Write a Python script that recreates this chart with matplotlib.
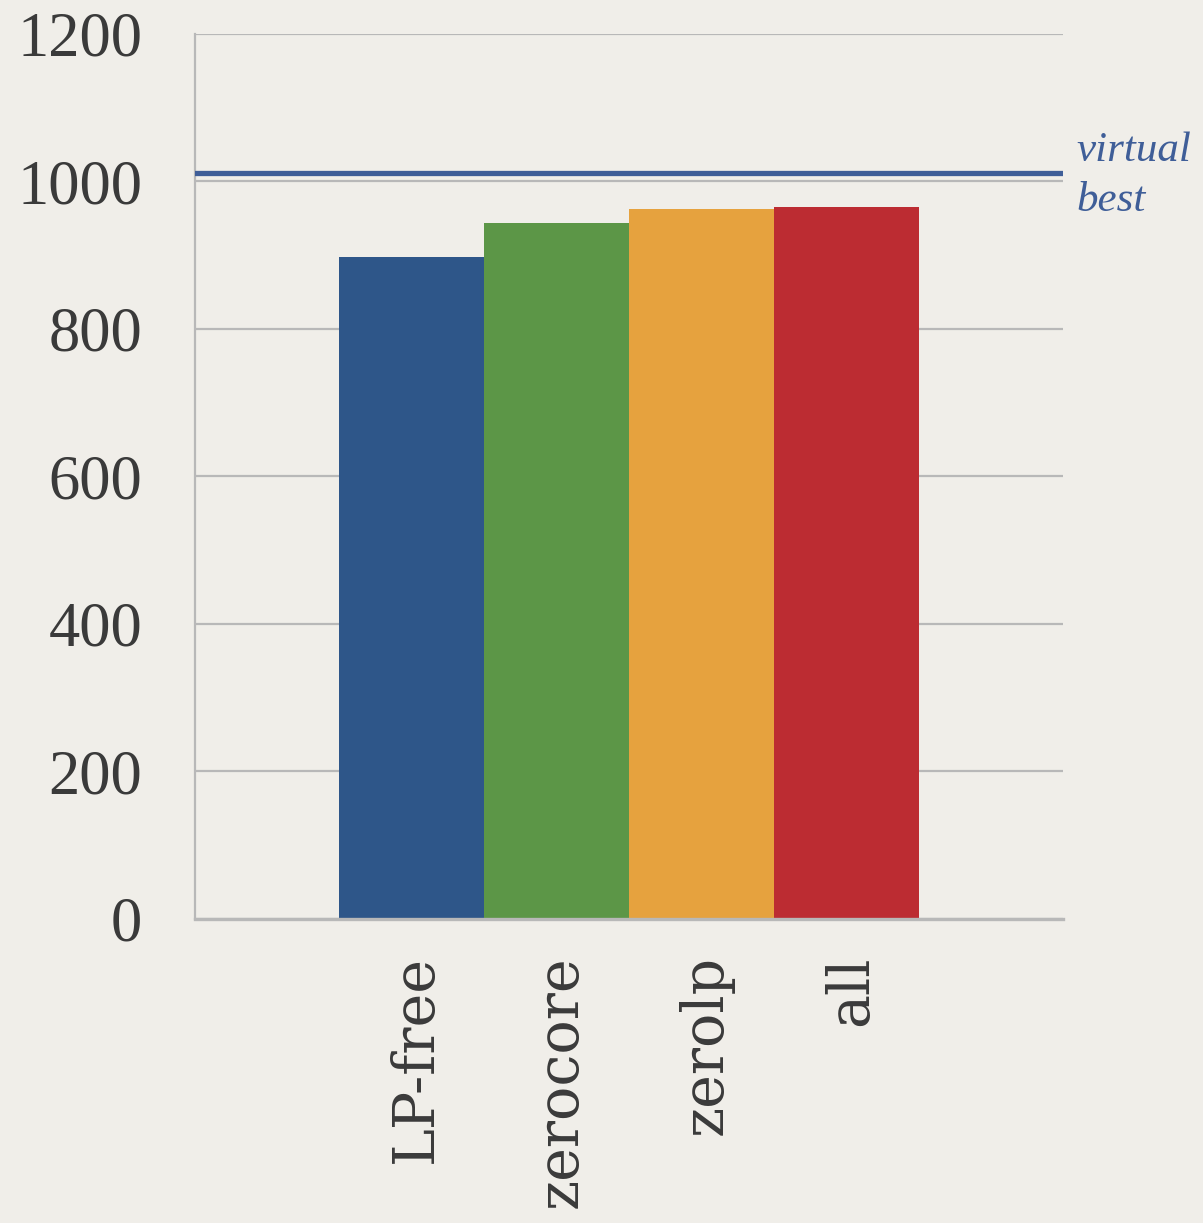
import matplotlib.pyplot as plt

# dados
categorias = ["LP-free", "zerocore", "zerolp", "all"]
valores = [898, 944, 963, 966]
cores = ["#2e5689", "#5c9647", "#e6a23e", "#bc2c32"]
virtual_best = 1011
yticks = [0, 200, 400, 600, 800, 1000, 1200]

fig = plt.figure(figsize=(12.03, 12.23), dpi=100, facecolor="#f0eee9")
ax = fig.add_axes([0.162, 0.2486, 0.7216, 0.7236])
ax.set_facecolor("#f0eee9")

x = list(range(len(categorias)))
ax.bar(x, valores, width=1.0, color=cores, zorder=2)
ax.axhline(virtual_best, color="#3f5e98", linewidth=3.8, zorder=3)

ax.set_xlim(-1.49, 4.49)
ax.set_ylim(0, 1200)
ax.set_yticks(yticks)
ax.set_yticklabels([str(t) for t in yticks], fontfamily="Liberation Serif",
                   fontsize=45, color="#3a3a3a")
ax.set_xticks([i + 0.03 for i in x])
ax.set_xticklabels(categorias, rotation=90, fontfamily="DejaVu Serif",
                   fontsize=41, color="#3a3a3a", va="top", ha="center")
ax.tick_params(axis="y", length=0, pad=38)
ax.tick_params(axis="x", length=0, pad=26)

ax.grid(axis="y", color="#b8b8b8", linewidth=1.6, zorder=0)
for s in ["top", "right"]:
    ax.spines[s].set_visible(False)
ax.spines["left"].set_color("#b8b8b8")
ax.spines["left"].set_linewidth(1.6)
ax.spines["bottom"].set_color("#b8b8b8")
ax.spines["bottom"].set_linewidth(2.4)

ax.text(1.016, virtual_best - 3, "virtual\nbest", transform=ax.get_yaxis_transform(),
        fontfamily="Liberation Serif", fontstyle="italic", fontsize=31,
        color="#3f5e98", va="center", ha="left", linespacing=1.4)

fig.savefig("out.png", dpi=100, facecolor=fig.get_facecolor())
